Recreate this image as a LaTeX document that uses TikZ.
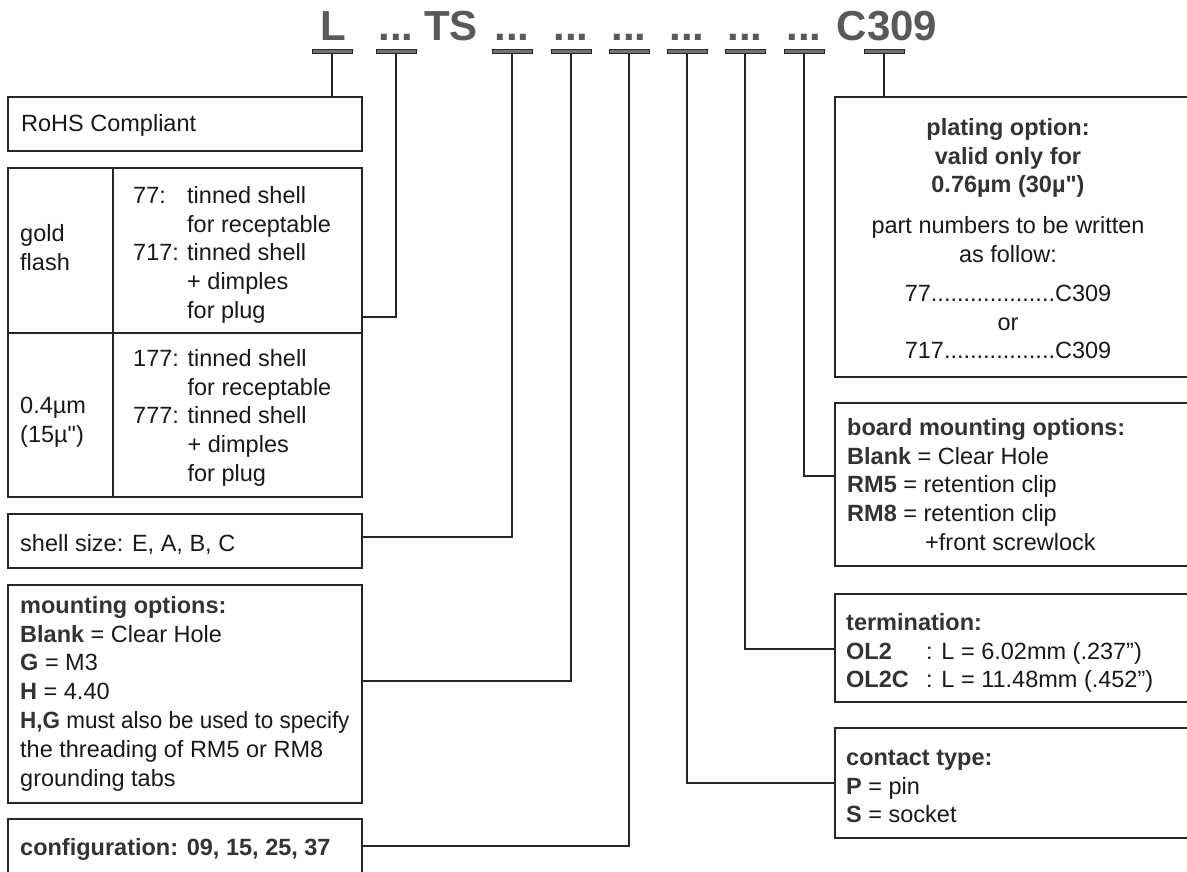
\documentclass[tikz,border=0pt]{standalone}
\usepackage{fontspec}
\setmainfont{Liberation Sans}
\newfontfamily\rawfont{Liberation Sans}[Ligatures=ResetAll]
\newcommand{\sq}{{\rawfont\symbol{34}}}
\newcommand{\lbl}[1]{{\bfseries\color{black!80}#1}}
\tikzset{
  box/.style={draw=black!85, line width=1.6pt, inner sep=0pt, outer sep=0pt, anchor=north west},
  conn/.style={draw=black!85, line width=1.4pt},
  hdr/.style={font=\fontsize{42}{42}\selectfont\bfseries, text=black!65, anchor=base, inner sep=0pt},
  hbar/.style={fill=black!55, draw=black!85, line width=0.8pt, minimum width=40pt, minimum height=4.5pt, inner sep=0pt, outer sep=0pt},
  txt/.style={anchor=north west, inner sep=0pt, align=left, yshift=20.16pt, text=black!90, font=\fontsize{23.5}{28.8}\selectfont},
  ctxt/.style={anchor=north, inner sep=0pt, align=center, yshift=20.16pt, text=black!90, font=\fontsize{23.5}{28.8}\selectfont},
}
\begin{document}
\begin{tikzpicture}[x=1pt, y=-1pt]
\useasboundingbox (0,0) rectangle (1187,871);
\fill[white] (0,0) rectangle (1187,871);
\clip (0,0) rectangle (1187,871);

% header
\node[hdr] (hL) at (333,40) {L};
\node[hdr] (h1) at (396,40) {...};
\node[hdr] (hTS) at (451,40) {TS};
\node[hdr] (h2) at (512,40) {...};
\node[hdr] (h3) at (571,40) {...};
\node[hdr] (h4) at (629,40) {...};
\node[hdr] (h5) at (687,40) {...};
\node[hdr] (h6) at (745,40) {...};
\node[hdr] (h7) at (804,40) {...};
\node[hdr] (hC) at (887,40) {C309};

\node[hbar] (bL) at (332,51.5) {};
\node[hbar] (b1) at (396,51.5) {};
\node[hbar] (b2) at (512,51.5) {};
\node[hbar] (b3) at (571,51.5) {};
\node[hbar] (b4) at (629,51.5) {};
\node[hbar] (b5) at (687,51.5) {};
\node[hbar] (b6) at (745,51.5) {};
\node[hbar] (b7) at (804,51.5) {};
\node[hbar] (b8) at (884,51.5) {};

% left boxes
\node[box, minimum width=354pt, minimum height=54pt] (rohs) at (8,97) {};
\node[box, minimum width=354pt, minimum height=329pt] (gold) at (8,168) {};
\draw[draw=black!85, line width=1.6pt] (gold.west |- 0,333) -- (gold.east |- 0,333);
\draw[draw=black!85, line width=1.6pt] (113,168) -- (113,497);
\node[box, minimum width=354pt, minimum height=54pt] (shell) at (8,514) {};
\node[box, minimum width=354pt, minimum height=218pt] (mount) at (8,585) {};
\node[box, minimum width=354pt, minimum height=80pt] (config) at (8,819) {};

% right boxes
\node[box, minimum width=365pt, minimum height=280pt] (plating) at (835,97) {};
\node[box, minimum width=365pt, minimum height=163pt] (board) at (835,403) {};
\node[box, minimum width=365pt, minimum height=108pt] (term) at (835,594) {};
\node[box, minimum width=365pt, minimum height=110pt] (contact) at (835,728) {};

% texts left
\node[txt] (t1) at (21,131) {\strut RoHS Compliant};
\node[txt] (t2) at (20,241) {\strut gold\\flash};
\node[txt] (t3) at (133,203) {\strut 77:};
\node[txt] (t4) at (133,260.6) {\strut 717:};
\node[txt] (t5) at (187,203) {\strut tinned shell\\for receptable\\tinned shell\\+ dimples\\for plug};
\node[txt] (t6) at (20,413) {\strut 0.4µm\\(15µ\sq)};
\node[txt] (t7) at (133,366) {\strut 177: tinned shell\\\hphantom{177: }for receptable\\777: tinned shell\\\hphantom{777: }+ dimples\\\hphantom{777: }for plug};
\node[txt] (t8) at (20,551) {\strut shell size: E, A, B, C};
\node[txt] (t9) at (20,613) {\strut\lbl{mounting options:}\\\lbl{Blank} = Clear Hole\\\lbl{G} = M3\\\lbl{H} = 4.40\\\scalebox{0.955}[1]{\lbl{H,G} must also be used to specify}\\the threading of RM5 or RM8\\grounding tabs};
\node[txt] (t10) at (20,855) {\strut\lbl{configuration: 09, 15, 25, 37}};

% texts right
\node[ctxt] (t11) at (1008,135) {\strut\lbl{plating option:}\\\lbl{valid only for}\\\lbl{0.76µm (30µ\sq)}};
\node[ctxt] (t12) at (1008,233) {\strut part numbers to be written\\as follow:};
\node[ctxt] (t13) at (1008,301) {\strut 77...................C309\\or\\717.................C309};
\node[txt] (t14) at (847,435) {\strut\lbl{board mounting options:}\\\lbl{Blank} = Clear Hole\\\lbl{RM5} = retention clip\\\lbl{RM8} = retention clip\\\hspace*{78pt}+front screwlock};
\node[txt] (t15) at (846,630) {\strut\lbl{termination:}\\\makebox[80pt][l]{\lbl{OL2}}: L = 6.02mm (.237”)\\\makebox[80pt][l]{\lbl{OL2C}}: L = 11.48mm (.452”)};
\node[txt] (t16) at (846,765) {\strut\lbl{contact type:}\\\lbl{P} = pin\\\lbl{S} = socket};

% connectors
\draw[conn] (bL.south) -- (bL.south |- rohs.north);
\draw[conn] (b1.south) |- (gold.east |- 0,317);
\draw[conn] (b2.south) |- (shell.east |- 0,537);
\draw[conn] (b3.south) |- (mount.east |- 0,681);
\draw[conn] (b4.south) |- (config.east |- 0,846);
\draw[conn] (b5.south) |- (contact.west |- 0,783);
\draw[conn] (b6.south) |- (term.west |- 0,649);
\draw[conn] (b7.south) |- (board.west |- 0,476);
\draw[conn] (b8.south) -- (b8.south |- plating.north);
\end{tikzpicture}
\end{document}
